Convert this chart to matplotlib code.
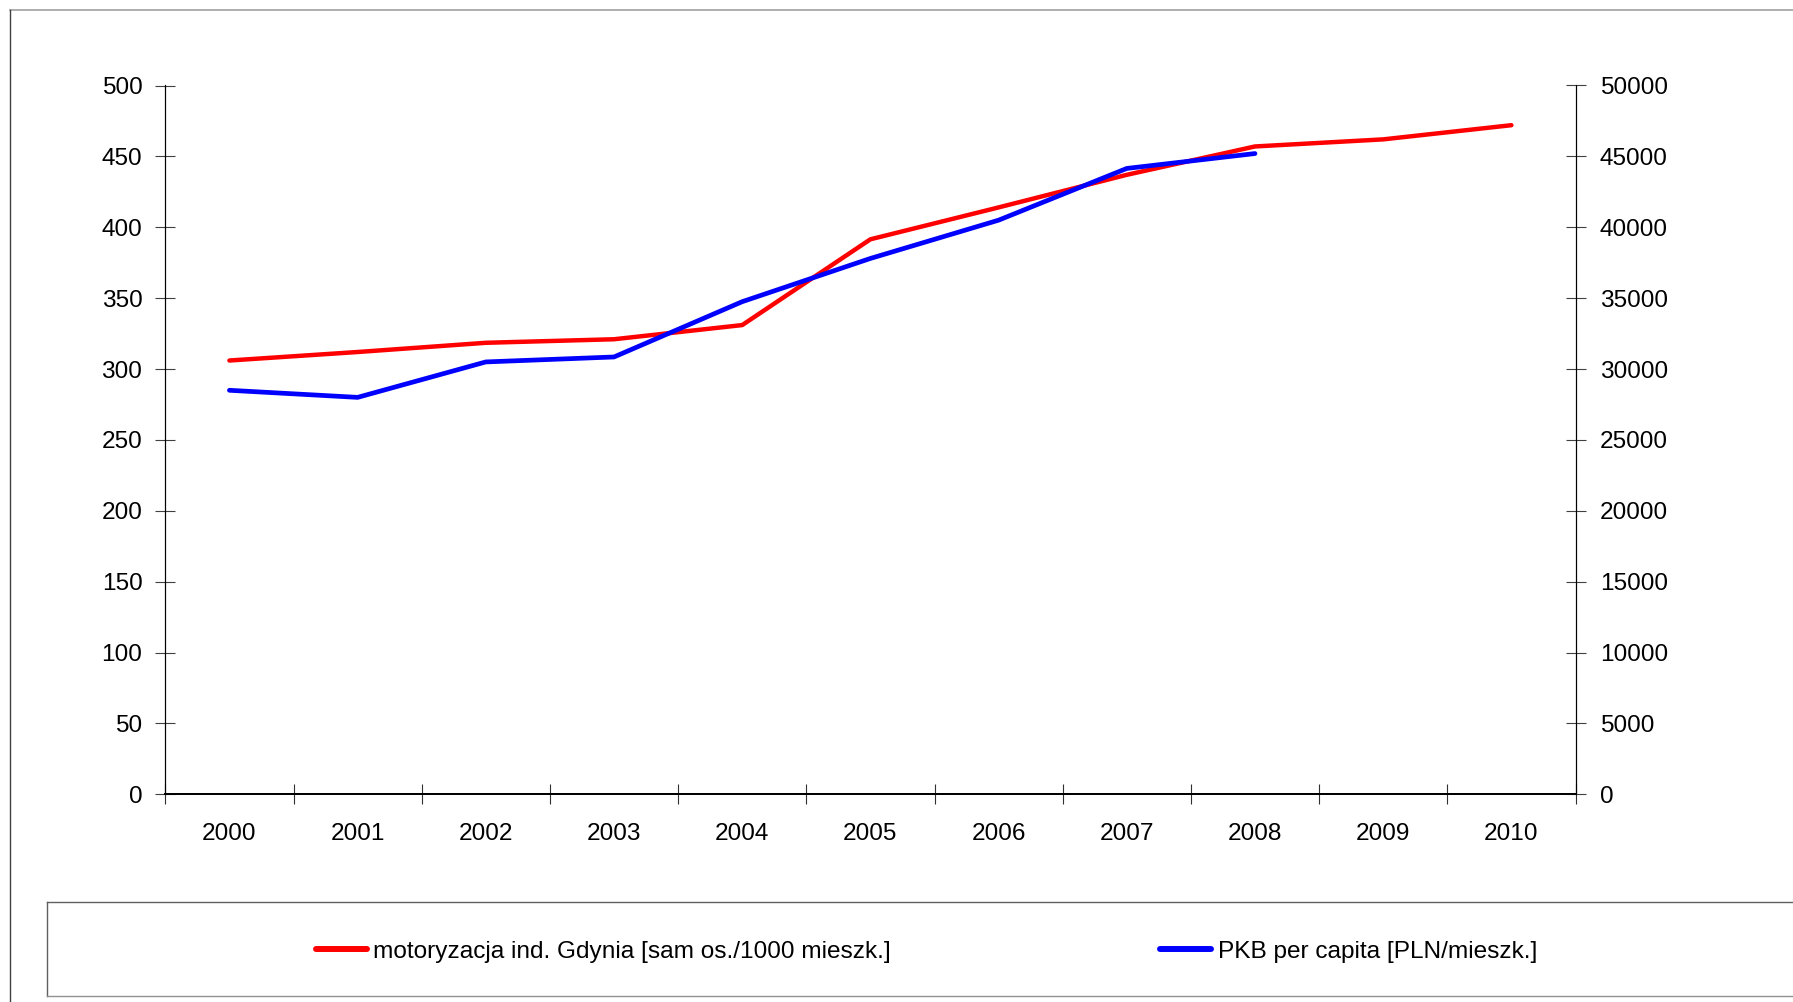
import matplotlib
matplotlib.use("Agg")
import matplotlib.pyplot as plt
from matplotlib.lines import Line2D

plt.rcParams["font.family"] = ["Liberation Sans", "DejaVu Sans"]

years = ["2000", "2001", "2002", "2003", "2004", "2005",
         "2006", "2007", "2008", "2009", "2010"]
motoryzacja = [306, 312, 318.5, 321, 331, 391.5, 414, 437, 457, 462, 472]
pkb = [28500, 28000, 30500, 30850, 34750, 37800, 40500, 44150, 45200]

label_red = "motoryzacja ind. Gdynia [sam os./1000 mieszk.]"
label_blue = "PKB per capita [PLN/mieszk.]"

W, H = 1793, 1002
fs = 17.6
fig = plt.figure(figsize=(W / 100, H / 100), dpi=100)
ax = fig.add_axes([165.3 / W, 1 - 794.3 / H, (1575.5 - 165.3) / W, (794.3 - 85.5) / H])
ax2 = ax.twinx()

x = list(range(len(years)))
ax.plot(x, motoryzacja, color="#ff0000", lw=3.2, solid_capstyle="round", solid_joinstyle="round")
ax2.plot(x[:len(pkb)], pkb, color="#0000ff", lw=3.4, solid_capstyle="round", solid_joinstyle="round")

ax.set_xlim(-0.5, len(years) - 0.5)
ax.set_ylim(0, 500)
ax2.set_ylim(0, 50000)
ax.set_yticks(range(0, 501, 50))
ax2.set_yticks(range(0, 50001, 5000))

# category labels centred, ticks between categories
ax.set_xticks(x)
ax.set_xticklabels(years)
ax.set_xticks([i + 0.5 for i in range(-1, len(years))], minor=True)
ax.tick_params(axis="x", which="major", length=0, pad=21, labelsize=fs)
ax.tick_params(axis="x", which="minor", length=15, width=0.8, direction="inout", color="#303030")
ax.tick_params(axis="y", length=15, width=0.8, direction="inout", pad=9, labelsize=fs, color="#404040")
ax2.tick_params(axis="y", length=15, width=0.8, direction="inout", pad=10, labelsize=fs, color="#404040")

for a in (ax, ax2):
    a.spines["top"].set_visible(False)
    a.spines["left"].set_linewidth(0.8)
    a.spines["right"].set_linewidth(0.8)
    a.spines["bottom"].set_linewidth(1.3)
    a.patch.set_visible(False)

# outer chart border (cut at right and bottom) and legend frame
fig.add_artist(Line2D([9.5 / W, 1], [1 - 10 / H, 1 - 10 / H], color="#a0a0a0", lw=1.2))
fig.add_artist(Line2D([9.5 / W, 9.5 / W], [0, 1 - 10 / H], color="#404040", lw=1.0))
fig.add_artist(Line2D([47.3 / W, 1], [1 - 902 / H, 1 - 902 / H], color="#606060", lw=1.0))
fig.add_artist(Line2D([47.3 / W, 47.3 / W], [1 - 995.5 / H, 1 - 902 / H], color="#606060", lw=1.0))
fig.add_artist(Line2D([47.3 / W, 1], [1 - 995.5 / H, 1 - 995.5 / H], color="#909090", lw=1.0))

handles = [Line2D([], [], color="#ff0000", lw=4.3, solid_capstyle="round"),
           Line2D([], [], color="#0000ff", lw=4.3, solid_capstyle="round")]
fig.legend(handles, [label_red, label_blue], loc="center left",
           bbox_to_anchor=(315.5 / W, 1 - 951.5 / H), ncol=2, frameon=False,
           fontsize=fs, handlelength=2.1, handletextpad=0.26, columnspacing=11.0,
           borderpad=0, borderaxespad=0)

fig.savefig("out.png", dpi=100, facecolor="white")
